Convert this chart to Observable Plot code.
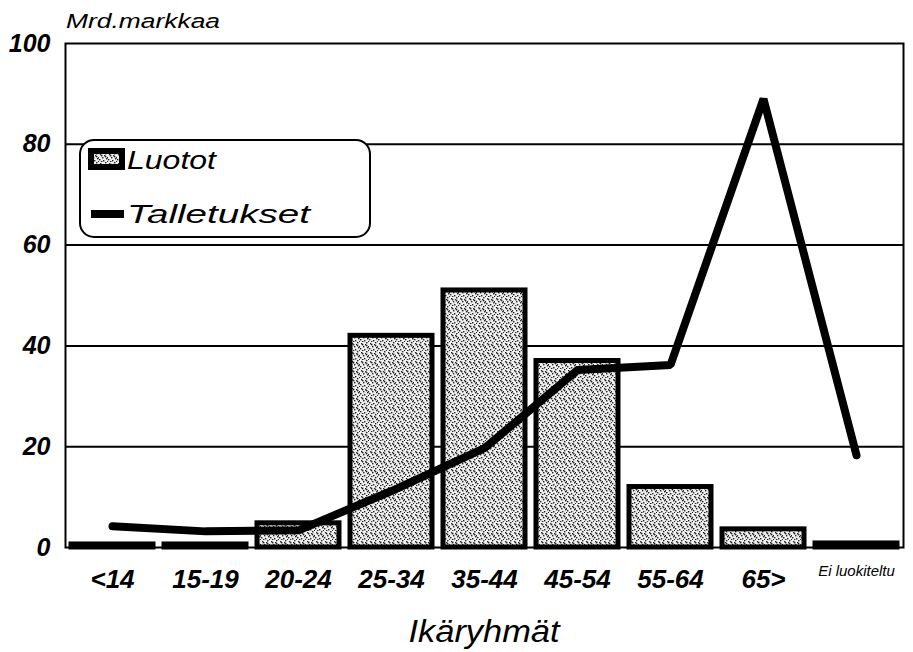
<!DOCTYPE html>
<html>
<head>
<meta charset="utf-8">
<script src="https://cdn.jsdelivr.net/npm/d3@7"></script>
<script src="https://cdn.jsdelivr.net/npm/@observablehq/plot@0.6"></script>
<style>
  html, body { margin: 0; padding: 0; background: white; }
  #chart svg { display: block; }
</style>
</head>
<body>
<div id="chart"></div>
<script>
const categories = ["<14", "15-19", "20-24", "25-34", "35-44", "45-54", "55-64", "65>", "Ei luokiteltu"];
const luotot = [0.6, 0.6, 4.8, 42, 51, 37, 12, 3.6, 0.8];
const talletukset = [4.2, 3.2, 3.4, 11.2, 19.7, 35.2, 36.2, 89, 18.3];
const yTicks = [0, 20, 40, 60, 80, 100];
const seriesNames = ["Luotot", "Talletukset"];
const yUnit = "Mrd.markkaa";
const xTitle = "Ikäryhmät";

const data = categories.map((c, i) => ({cat: c, luotot: luotot[i], talletukset: talletukset[i]}));
const lastCat = categories[categories.length - 1];

const chart = Plot.plot({
  width: 913,
  height: 652,
  marginLeft: 65,
  marginRight: 10,
  marginTop: 43,
  marginBottom: 105,
  x: {domain: categories, paddingInner: 0.12, paddingOuter: 0.06, axis: null},
  y: {domain: [0, 100], axis: null},
  style: {background: "white", fontFamily: "'Liberation Sans', Arial, sans-serif", color: "black"},
  marks: [
    Plot.ruleY(yTicks.slice(1, -1), {stroke: "black", strokeWidth: 2}),
    Plot.frame({stroke: "black", strokeWidth: 2}),
    Plot.barY(data, {x: "cat", y: "luotot", fill: "url(#stipple)", stroke: "black", strokeWidth: 5}),
    Plot.lineY(data, {x: "cat", y: "talletukset", stroke: "black", strokeWidth: 8, strokeLinejoin: "miter", strokeLinecap: "round"}),
    Plot.axisY({ticks: yTicks, tickSize: 0, tickPadding: 15, fontSize: 25, label: null, tickFormat: d => String(d)}),
    Plot.text(data.filter(d => d.cat !== lastCat), {x: "cat", y: 0, text: "cat", dy: 32, fontSize: 26, fontStyle: "italic", fontWeight: "bold", fill: "black"}),
    Plot.text(data.filter(d => d.cat === lastCat), {x: "cat", y: 0, text: "cat", dy: 24, fontSize: 15, fontStyle: "italic", fill: "black"})
  ]
});

const svg = d3.select(chart);

// stipple pattern
const defs = svg.insert("defs", ":first-child");
const pat = defs.append("pattern").attr("id", "stipple").attr("patternUnits", "userSpaceOnUse")
  .attr("width", 9).attr("height", 9);
pat.append("rect").attr("width", 9).attr("height", 9).attr("fill", "#eeeeee");
[[1,1],[5,2],[3,4],[7,5],[0,6],[4,7],[8,8],[2,8],[6,0],[6,3],[2,2],[8,4]].forEach(([px, py]) =>
  pat.append("rect").attr("x", px).attr("y", py).attr("width", 1.4).attr("height", 1.4).attr("fill", "#222"));

// y tick label style
svg.selectAll("g[aria-label='y-axis tick label'] text")
  .attr("font-style", "italic").attr("font-weight", "bold");

// unit label
svg.append("text").attr("x", 66).attr("y", 28).attr("text-anchor", "start").attr("font-size", 20).attr("font-style", "italic")
  .attr("textLength", 154).attr("lengthAdjust", "spacingAndGlyphs").attr("fill", "black").text(yUnit);

// x title
svg.append("text").attr("x", 484).attr("y", 642).attr("text-anchor", "middle").attr("font-size", 31)
  .attr("font-style", "italic").attr("textLength", 151).attr("lengthAdjust", "spacingAndGlyphs").attr("fill", "black").text(xTitle);

// legend
const lg = svg.append("g").attr("text-anchor", "start");
lg.append("rect").attr("x", 80).attr("y", 140).attr("width", 290).attr("height", 97).attr("rx", 14)
  .attr("fill", "white").attr("stroke", "black").attr("stroke-width", 2);
lg.append("rect").attr("x", 91).attr("y", 151).attr("width", 31).attr("height", 16)
  .attr("fill", "url(#stipple)").attr("stroke", "black").attr("stroke-width", 6);
lg.append("text").attr("x", 127).attr("y", 169).attr("text-anchor", "start").attr("font-size", 25).attr("font-style", "italic")
  .attr("textLength", 89).attr("lengthAdjust", "spacingAndGlyphs").attr("fill", "black").text(seriesNames[0]);
lg.append("line").attr("x1", 91).attr("x2", 124).attr("y1", 214).attr("y2", 214)
  .attr("stroke", "black").attr("stroke-width", 8);
lg.append("text").attr("x", 127).attr("y", 223).attr("text-anchor", "start").attr("font-size", 26).attr("font-style", "italic")
  .attr("textLength", 183).attr("lengthAdjust", "spacingAndGlyphs").attr("fill", "black").text(seriesNames[1]);

document.getElementById("chart").appendChild(chart);
</script>
</body>
</html>
